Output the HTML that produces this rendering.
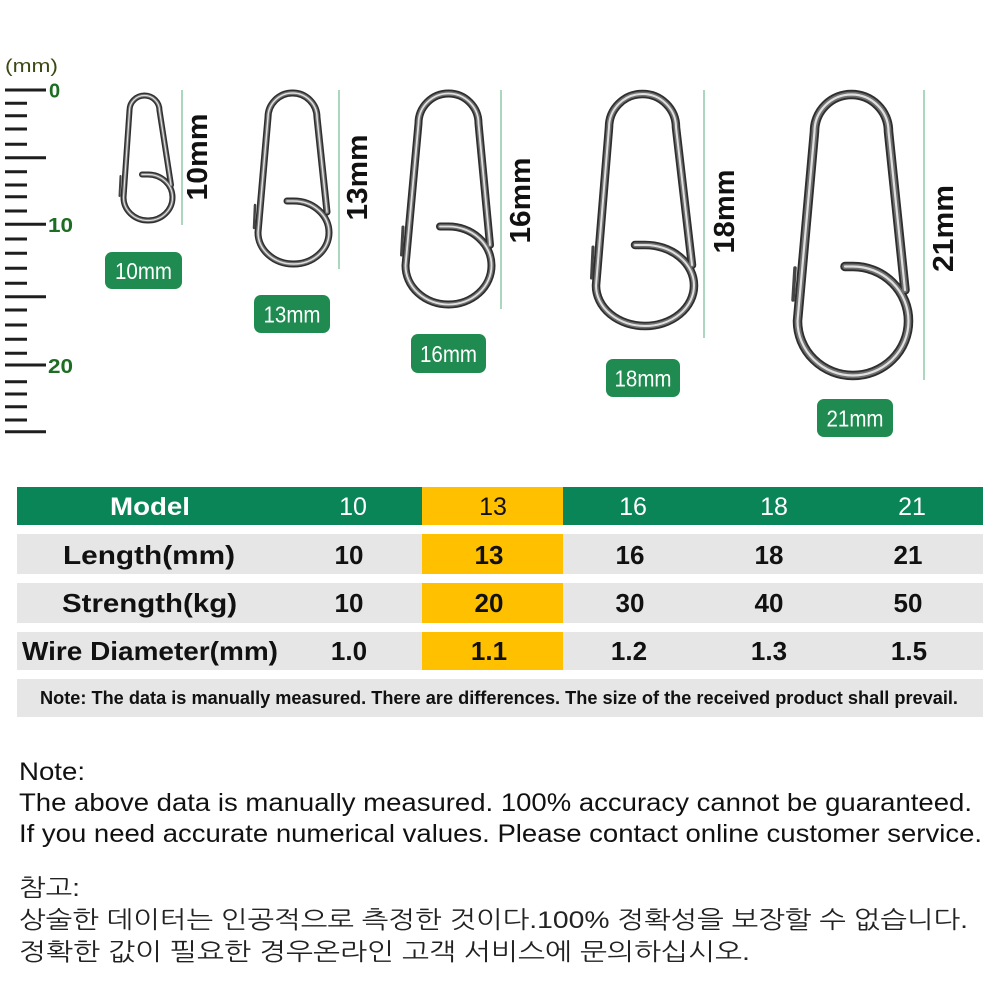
<!DOCTYPE html>
<html><head><meta charset="utf-8"><style>
html,body{margin:0;padding:0;background:#fff;}
svg{display:block;}
</style></head><body>
<svg width="1000" height="1000" viewBox="0 0 1000 1000" xmlns="http://www.w3.org/2000/svg">
<rect width="1000" height="1000" fill="#fff"/>
<!-- ruler -->
<text x="5" y="72" font-family="Liberation Sans, sans-serif" font-size="18" fill="#3b4a12" textLength="53" lengthAdjust="spacingAndGlyphs">(mm)</text>
<g stroke="#1e1e1e" stroke-width="3">
<line x1="5" y1="90" x2="46" y2="90"/>
<line x1="5" y1="103.3" x2="27" y2="103.3"/>
<line x1="5" y1="115.7" x2="27" y2="115.7"/>
<line x1="5" y1="129" x2="27" y2="129"/>
<line x1="5" y1="144.3" x2="27" y2="144.3"/>
<line x1="5" y1="157.7" x2="46" y2="157.7"/>
<line x1="5" y1="171.7" x2="27" y2="171.7"/>
<line x1="5" y1="185" x2="27" y2="185"/>
<line x1="5" y1="196.7" x2="27" y2="196.7"/>
<line x1="5" y1="211" x2="27" y2="211"/>
<line x1="5" y1="224.3" x2="46" y2="224.3"/>
<line x1="5" y1="239" x2="27" y2="239"/>
<line x1="5" y1="253.3" x2="27" y2="253.3"/>
<line x1="5" y1="268.3" x2="27" y2="268.3"/>
<line x1="5" y1="283.3" x2="27" y2="283.3"/>
<line x1="5" y1="296.7" x2="46" y2="296.7"/>
<line x1="5" y1="310" x2="27" y2="310"/>
<line x1="5" y1="325" x2="27" y2="325"/>
<line x1="5" y1="339.3" x2="27" y2="339.3"/>
<line x1="5" y1="353.3" x2="27" y2="353.3"/>
<line x1="5" y1="365" x2="46" y2="365"/>
<line x1="5" y1="381.7" x2="27" y2="381.7"/>
<line x1="5" y1="394" x2="27" y2="394"/>
<line x1="5" y1="406.7" x2="27" y2="406.7"/>
<line x1="5" y1="420" x2="27" y2="420"/>
<line x1="5" y1="431.7" x2="46" y2="431.7"/>
</g>
<g font-family="Liberation Sans, sans-serif" font-size="20" font-weight="bold" fill="#1d6e22">
<text x="49" y="97.5">0</text>
<text x="48" y="232" textLength="25" lengthAdjust="spacingAndGlyphs">10</text>
<text x="48" y="373" textLength="25" lengthAdjust="spacingAndGlyphs">20</text>
</g>

<!-- vertical guide lines -->
<g stroke="#8fcaa8" stroke-width="1.5">
<line x1="182" y1="90" x2="182" y2="225"/>
<line x1="339" y1="90" x2="339" y2="269"/>
<line x1="501" y1="90" x2="501" y2="309"/>
<line x1="704" y1="90" x2="704" y2="338"/>
<line x1="924" y1="90" x2="924" y2="380"/>
</g>
<!-- rotated dimension labels -->
<g font-family="Liberation Sans, sans-serif" font-size="29" font-weight="bold" fill="#111" text-anchor="middle">
<text transform="translate(207,157) rotate(-90)" textLength="87" lengthAdjust="spacingAndGlyphs">10mm</text>
<text transform="translate(367,177.5) rotate(-90)" textLength="86" lengthAdjust="spacingAndGlyphs">13mm</text>
<text transform="translate(530,200.5) rotate(-90)" textLength="86" lengthAdjust="spacingAndGlyphs">16mm</text>
<text transform="translate(734,211.5) rotate(-90)" textLength="84" lengthAdjust="spacingAndGlyphs">18mm</text>
<text transform="translate(953,228.5) rotate(-90)" textLength="87" lengthAdjust="spacingAndGlyphs">21mm</text>
</g>

<!-- rings -->
<g fill="none" stroke-linecap="round" stroke-linejoin="round">
  <g>
    <path d="M142,174.5 L148,174.5 A24.5,23 0 0 1 172.5,197.5 A24.5,23 0 0 1 148,220.5 A24.5,23 0 0 1 123.5,197.5 L129.5,110.5 A15,15 0 0 1 159.5,110.5 L171,185" stroke="#2e2e2e" stroke-width="6"/>
    <path d="M142,174.5 L148,174.5 A24.5,23 0 0 1 172.5,197.5 A24.5,23 0 0 1 148,220.5 A24.5,23 0 0 1 123.5,197.5 L129.5,110.5 A15,15 0 0 1 159.5,110.5 L171,185" stroke="#707070" stroke-width="3.2"/>
    <path d="M142,174.5 L148,174.5 A24.5,23 0 0 1 172.5,197.5 A24.5,23 0 0 1 148,220.5 A24.5,23 0 0 1 123.5,197.5 L129.5,110.5 A15,15 0 0 1 159.5,110.5 L171,185" stroke="#e0e0e0" stroke-width="1.2"/>
    <path d="M120.5,176 L119.5,196" stroke="#444" stroke-width="2"/>
  </g>
  <g>
    <path d="M287,201 L293.5,201 A35.5,31.5 0 0 1 329,232.5 A35.5,31.5 0 0 1 293.5,264 A35.5,31.5 0 0 1 258,232.5 L268,117.5 A24.5,24.5 0 0 1 317,117.5 L327,212" stroke="#2e2e2e" stroke-width="7"/>
    <path d="M287,201 L293.5,201 A35.5,31.5 0 0 1 329,232.5 A35.5,31.5 0 0 1 293.5,264 A35.5,31.5 0 0 1 258,232.5 L268,117.5 A24.5,24.5 0 0 1 317,117.5 L327,212" stroke="#707070" stroke-width="4"/>
    <path d="M287,201 L293.5,201 A35.5,31.5 0 0 1 329,232.5 A35.5,31.5 0 0 1 293.5,264 A35.5,31.5 0 0 1 258,232.5 L268,117.5 A24.5,24.5 0 0 1 317,117.5 L327,212" stroke="#e0e0e0" stroke-width="1.5"/>
    <path d="M255,205 L254,228" stroke="#444" stroke-width="2.5"/>
  </g>
  <g>
    <path d="M440,226.5 L448.5,226.5 A43,39 0 0 1 491.5,265.5 A43,39 0 0 1 448.5,304.5 A43,39 0 0 1 405.5,265.5 L418.5,123.5 A30,30 0 0 1 478.5,123.5 L490,245" stroke="#2e2e2e" stroke-width="8"/>
    <path d="M440,226.5 L448.5,226.5 A43,39 0 0 1 491.5,265.5 A43,39 0 0 1 448.5,304.5 A43,39 0 0 1 405.5,265.5 L418.5,123.5 A30,30 0 0 1 478.5,123.5 L490,245" stroke="#707070" stroke-width="4.6"/>
    <path d="M440,226.5 L448.5,226.5 A43,39 0 0 1 491.5,265.5 A43,39 0 0 1 448.5,304.5 A43,39 0 0 1 405.5,265.5 L418.5,123.5 A30,30 0 0 1 478.5,123.5 L490,245" stroke="#e0e0e0" stroke-width="1.8"/>
    <path d="M403,227 L401.5,255" stroke="#444" stroke-width="3"/>
  </g>
  <g>
    <path d="M635,245 L645,245 A49,40.5 0 0 1 694,285.5 A49,40.5 0 0 1 645,326 A49,40.5 0 0 1 596,285.5 L609,127.5 A33.5,33.5 0 0 1 676,127.5 L692,265" stroke="#2e2e2e" stroke-width="8.5"/>
    <path d="M635,245 L645,245 A49,40.5 0 0 1 694,285.5 A49,40.5 0 0 1 645,326 A49,40.5 0 0 1 596,285.5 L609,127.5 A33.5,33.5 0 0 1 676,127.5 L692,265" stroke="#707070" stroke-width="5"/>
    <path d="M635,245 L645,245 A49,40.5 0 0 1 694,285.5 A49,40.5 0 0 1 645,326 A49,40.5 0 0 1 596,285.5 L609,127.5 A33.5,33.5 0 0 1 676,127.5 L692,265" stroke="#e0e0e0" stroke-width="2"/>
    <path d="M593,247 L591.5,278" stroke="#444" stroke-width="3"/>
  </g>
  <g>
    <path d="M845,266.5 L853,266.5 A55.5,54.5 0 0 1 908.5,321 A55.5,54.5 0 0 1 853,375.5 A55.5,54.5 0 0 1 797.5,321 L814.5,131.5 A37,37 0 0 1 888.5,131.5 L905,290" stroke="#2e2e2e" stroke-width="9.5"/>
    <path d="M845,266.5 L853,266.5 A55.5,54.5 0 0 1 908.5,321 A55.5,54.5 0 0 1 853,375.5 A55.5,54.5 0 0 1 797.5,321 L814.5,131.5 A37,37 0 0 1 888.5,131.5 L905,290" stroke="#707070" stroke-width="5.8"/>
    <path d="M845,266.5 L853,266.5 A55.5,54.5 0 0 1 908.5,321 A55.5,54.5 0 0 1 853,375.5 A55.5,54.5 0 0 1 797.5,321 L814.5,131.5 A37,37 0 0 1 888.5,131.5 L905,290" stroke="#e0e0e0" stroke-width="2.2"/>
    <path d="M795,268 L793,300" stroke="#444" stroke-width="3.5"/>
  </g>
</g>

<!-- badges -->
<g fill="#1f8b50">
<rect x="105" y="252" width="77" height="37" rx="7"/>
<rect x="254" y="295" width="76" height="38" rx="7"/>
<rect x="411" y="334" width="75" height="39" rx="7"/>
<rect x="606" y="359" width="74" height="38" rx="7"/>
<rect x="817" y="399" width="76" height="38" rx="7"/>
</g>
<g font-family="Liberation Sans, sans-serif" font-size="23" fill="#fff" text-anchor="middle">
<text x="143.5" y="279" textLength="57" lengthAdjust="spacingAndGlyphs">10mm</text>
<text x="292" y="322.5" textLength="57" lengthAdjust="spacingAndGlyphs">13mm</text>
<text x="448.5" y="362" textLength="57" lengthAdjust="spacingAndGlyphs">16mm</text>
<text x="643" y="386.5" textLength="57" lengthAdjust="spacingAndGlyphs">18mm</text>
<text x="855" y="426.5" textLength="57" lengthAdjust="spacingAndGlyphs">21mm</text>
</g>

<!-- table -->
<rect x="17" y="487" width="966" height="38" fill="#0a8557"/>
<rect x="17" y="534" width="966" height="40" fill="#e6e6e6"/>
<rect x="17" y="583" width="966" height="40" fill="#e6e6e6"/>
<rect x="17" y="632" width="966" height="38" fill="#e6e6e6"/>
<rect x="17" y="679" width="966" height="38" fill="#e6e6e6"/>
<g fill="#ffc000">
<rect x="422" y="487" width="141" height="38"/>
<rect x="422" y="534" width="141" height="40"/>
<rect x="422" y="583" width="141" height="40"/>
<rect x="422" y="632" width="141" height="38"/>
</g>
<g font-family="Liberation Sans, sans-serif" font-size="25" text-anchor="middle">
<text x="150" y="515" fill="#fff" font-weight="bold" textLength="80" lengthAdjust="spacingAndGlyphs">Model</text>
<text x="353" y="515" fill="#fff">10</text>
<text x="493" y="515" fill="#111">13</text>
<text x="633" y="515" fill="#fff">16</text>
<text x="774" y="515" fill="#fff">18</text>
<text x="912" y="515" fill="#fff">21</text>
</g>
<g font-family="Liberation Sans, sans-serif" font-size="26" font-weight="bold" fill="#111" text-anchor="middle">
<text x="149" y="564" textLength="172" lengthAdjust="spacingAndGlyphs">Length(mm)</text>
<text x="349" y="564">10</text>
<text x="489" y="564">13</text>
<text x="630" y="564">16</text>
<text x="769" y="564">18</text>
<text x="908" y="564">21</text>
<text x="149.5" y="612" textLength="175" lengthAdjust="spacingAndGlyphs">Strength(kg)</text>
<text x="349" y="612">10</text>
<text x="489" y="612">20</text>
<text x="630" y="612">30</text>
<text x="769" y="612">40</text>
<text x="908" y="612">50</text>
<text x="150" y="660" textLength="256" lengthAdjust="spacingAndGlyphs">Wire Diameter(mm)</text>
<text x="349" y="660">1.0</text>
<text x="489" y="660">1.1</text>
<text x="629" y="660">1.2</text>
<text x="769" y="660">1.3</text>
<text x="909" y="660">1.5</text>
</g>
<text x="40" y="704" font-family="Liberation Sans, sans-serif" font-size="18" font-weight="bold" fill="#111" textLength="918" lengthAdjust="spacingAndGlyphs">Note: The data is manually measured. There are differences. The size of the received product shall prevail.</text>

<!-- notes -->
<g font-family="Liberation Sans, sans-serif" font-size="25" fill="#111">
<text x="19" y="780" textLength="66" lengthAdjust="spacingAndGlyphs">Note:</text>
<text x="19" y="811" textLength="953" lengthAdjust="spacingAndGlyphs">The above data is manually measured. 100% accuracy cannot be guaranteed.</text>
<text x="19" y="842" textLength="963" lengthAdjust="spacingAndGlyphs">If you need accurate numerical values. Please contact online customer service.</text>
</g>
<g font-family="Liberation Sans, NanumGothic, 'Noto Sans CJK KR', sans-serif" font-size="24" fill="#222">
<text x="19" y="896" textLength="61" lengthAdjust="spacingAndGlyphs">참고:</text>
<text x="19" y="928" textLength="949" lengthAdjust="spacingAndGlyphs">상술한 데이터는 인공적으로 측정한 것이다.100% 정확성을 보장할 수 없습니다.</text>
<text x="19" y="960" textLength="731" lengthAdjust="spacingAndGlyphs">정확한 값이 필요한 경우온라인 고객 서비스에 문의하십시오.</text>
</g>
</svg>
</body></html>
